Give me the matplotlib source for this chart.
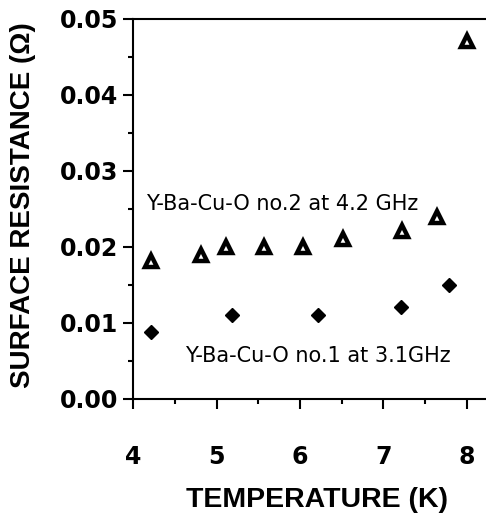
import matplotlib
matplotlib.use("Agg")
import matplotlib.pyplot as plt
from matplotlib.ticker import MultipleLocator, FixedLocator

# Data
temp_no2 = [4.21, 4.81, 5.11, 5.57, 6.03, 6.51, 7.22, 7.64, 8.00]
rs_no2 = [0.0181, 0.0190, 0.0200, 0.0200, 0.0200, 0.0211, 0.0221, 0.0240, 0.0471]
temp_no1 = [4.21, 5.18, 6.22, 7.21, 7.78]
rs_no1 = [0.0088, 0.0110, 0.0110, 0.0121, 0.0150]
xticks = [4, 5, 6, 7, 8]
yticks = [0.00, 0.01, 0.02, 0.03, 0.04, 0.05]
label_no2 = "Y-Ba-Cu-O no.2 at 4.2 GHz"
label_no1 = "Y-Ba-Cu-O no.1 at 3.1GHz"

fig = plt.figure(figsize=(4.86, 5.14), dpi=100)
ax = fig.add_axes([133/486, 1-399/514, 1-133/486, (399-19)/514])

ax.plot(temp_no2, rs_no2, linestyle="none", marker="^", markersize=8,
        markerfacecolor="white", markeredgecolor="black", markeredgewidth=3.2, clip_on=False)
ax.plot(temp_no1, rs_no1, linestyle="none", marker="D", markersize=7,
        markerfacecolor="black", markeredgecolor="black", clip_on=False)

ax.set_xlim(4, 4 + (486-133)/83.5)
ax.set_ylim(0, 0.05)
ax.xaxis.set_major_locator(FixedLocator(xticks))
ax.xaxis.set_minor_locator(MultipleLocator(0.5))
ax.yaxis.set_major_locator(FixedLocator(yticks))
ax.yaxis.set_minor_locator(MultipleLocator(0.005))
ax.set_yticklabels([f"{v:.2f}" for v in yticks])
ax.set_xticklabels([str(v) for v in xticks])

for s in ["left", "bottom", "top"]:
    ax.spines[s].set_linewidth(1.5)
ax.spines["right"].set_visible(False)

ax.tick_params(axis="both", which="major", direction="out", length=7, width=1.5)
ax.tick_params(axis="both", which="minor", direction="out", length=3.5, width=1.5)
ax.tick_params(axis="x", which="major", pad=26)
ax.tick_params(axis="y", which="major", pad=3.5)
for lab in ax.get_xticklabels() + ax.get_yticklabels():
    lab.set_fontfamily("DejaVu Sans")
    lab.set_fontweight("bold")
    lab.set_fontsize(17)

ax.set_xlabel("TEMPERATURE (K)", fontfamily="Liberation Sans", fontweight="bold", fontsize=20.5)
ax.xaxis.set_label_coords((317-133)/353, (399-487)/380)
ax.set_ylabel("SURFACE RESISTANCE (\u03a9)", fontfamily="Liberation Sans", fontweight="bold", fontsize=20)
ax.yaxis.set_label_coords((36-133)/353, (399-205)/380)

ax.text(4.156, 0.0257, label_no2, fontfamily="DejaVu Sans", fontsize=15, ha="left", va="center")
ax.text(4.623, 0.0057, label_no1, fontfamily="DejaVu Sans", fontsize=15, ha="left", va="center")

fig.savefig("out.png", dpi=100)
